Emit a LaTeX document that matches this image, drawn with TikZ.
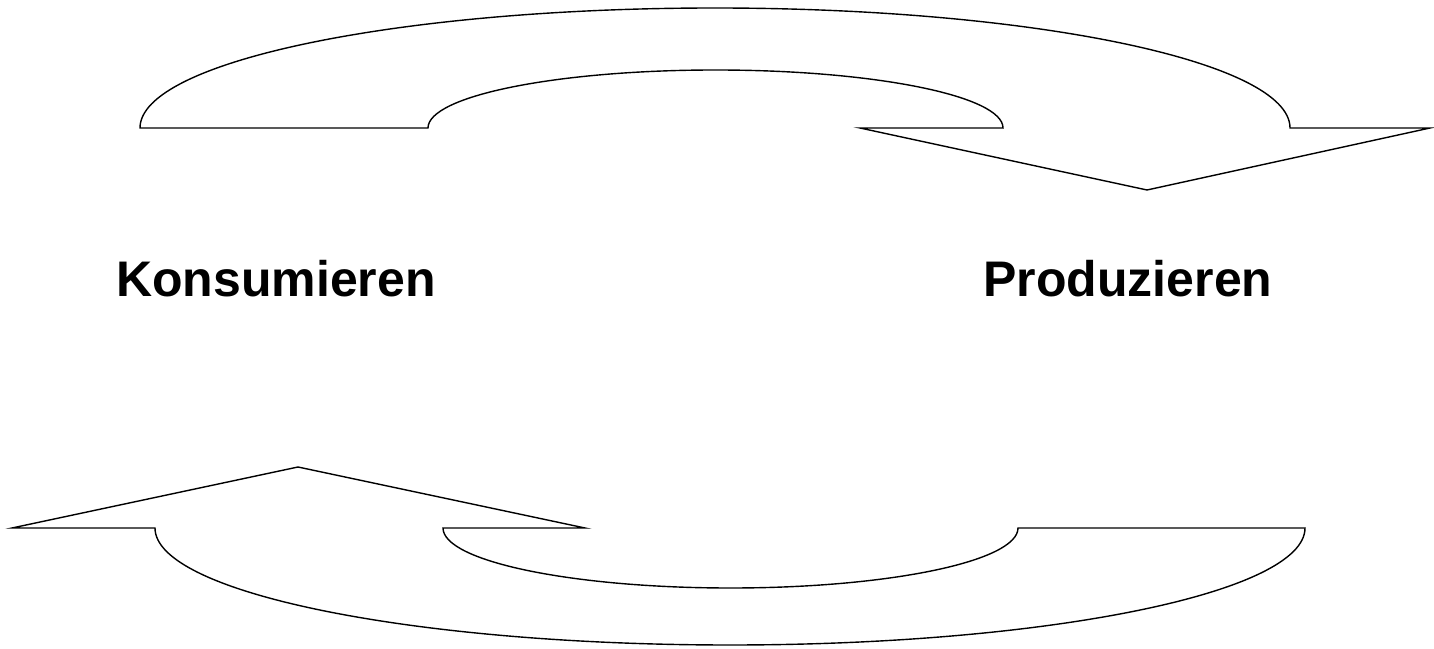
\documentclass[tikz,border=0pt]{standalone}
\usepackage{fontspec}
\setmainfont{Liberation Sans}
\usepackage{tikz}
\usetikzlibrary{positioning}

\tikzset{
  blockarrow/.style={draw=black, fill=white, line width=0.7pt, line join=miter},
  cyclelabel/.style={anchor=base, inner sep=0pt, font=\fontsize{25pt}{30pt}\selectfont\bfseries}
}

\begin{document}
\begin{tikzpicture}[x=0.5pt, y=0.5pt]
	\useasboundingbox (0,0) rectangle (1434,648);
	
	% upper arrow, pointing right
	\draw[blockarrow] (140,520) arc[start angle=180, end angle=0, x radius=287.5pt, y radius=60pt]
		-- (1430,520) -- (1147,458) -- (860,520) -- (1003,520)
		arc[start angle=0, end angle=180, x radius=143.75pt, y radius=29pt] -- cycle;
	
	% lower arrow, pointing left
	\draw[blockarrow] (155,120) arc[start angle=180, end angle=360, x radius=287.5pt, y radius=58.5pt]
		-- (1018,120)
		arc[start angle=0, end angle=-180, x radius=143.75pt, y radius=30pt]
		-- (585,120) -- (298,181) -- (12,120) -- cycle;
	
	\node[cyclelabel] (konsum) at (276,351) {Konsumieren};
	\node[cyclelabel] (produkt) at (1128,351) {Produzieren};
\end{tikzpicture}
\end{document}
